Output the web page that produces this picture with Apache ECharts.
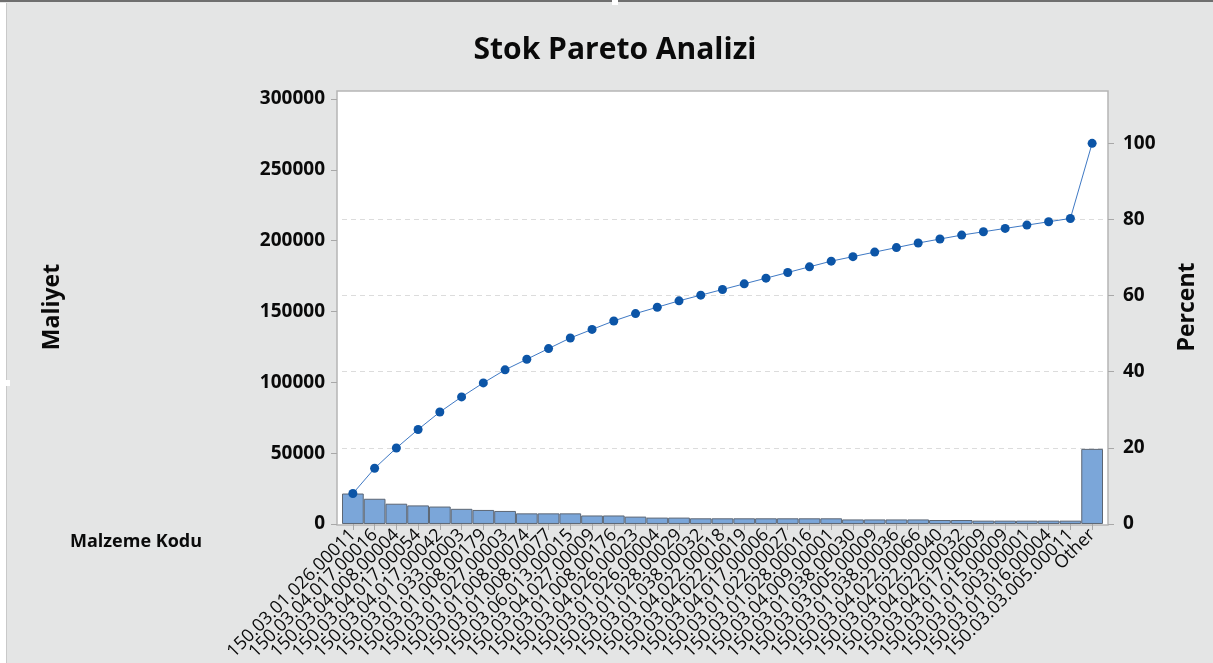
<!DOCTYPE html>
<html>
<head>
<meta charset="utf-8">
<title>Stok Pareto Analizi</title>
<script src="https://cdn.jsdelivr.net/npm/echarts@6/dist/echarts.min.js"></script>
<style>
  html, body { margin: 0; padding: 0; background: #e4e5e5; }
  #chart { width: 1213px; height: 663px; }
</style>
</head>
<body>
<div id="chart"></div>
<script>
// malzeme kodlari (pareto sirasi)
const categories = [
  '150.03.01.026.00011', '150.03.04.017.00016', '150.03.04.008.00004', '150.03.04.017.00054',
  '150.03.04.017.00042', '150.03.01.033.00003', '150.03.01.008.00179', '150.03.01.027.00003',
  '150.03.01.008.00074', '150.03.01.008.00077', '150.03.06.013.00015', '150.03.04.027.00009',
  '150.03.01.008.00176', '150.03.04.026.00023', '150.03.01.026.00004', '150.03.01.028.00029',
  '150.03.01.038.00032', '150.03.04.022.00018', '150.03.04.022.00019', '150.03.04.017.00006',
  '150.03.01.022.00027', '150.03.01.028.00016', '150.03.04.009.00001', '150.03.01.038.00030',
  '150.03.03.005.00009', '150.03.01.038.00036', '150.03.04.022.00066', '150.03.04.022.00040',
  '150.03.04.022.00032', '150.03.04.017.00009', '150.03.01.015.00009', '150.03.01.003.00001',
  '150.03.01.016.00004', '150.03.03.005.00011', 'Other'
]
// maliyet degerleri
const maliyet = [
  21500, 17800, 14300, 13100, 12300, 10700, 9900, 9200,
  7500, 7500, 7500, 6000, 6000, 5200, 4500, 4500,
  4000, 4000, 4000, 4000, 4000, 4000, 4000,
  3200, 3200, 3200, 3200, 2800, 2800,
  2350, 2350, 2350, 2350, 2350, 53000
]
const leftTicks = [0, 50000, 100000, 150000, 200000, 250000, 300000]
const rightTicks = [0, 20, 40, 60, 80, 100]
const leftMax = 305600

// kumulatif yuzde
const total = maliyet.reduce((a, b) => a + b, 0)
let run = 0
const cumPct = maliyet.map(v => { run += v; return +(run / total * 100).toFixed(2) })
const pctMax = leftMax / total * 100

const FONT = '"Open Sans", "Noto Sans", sans-serif'
const chart = echarts.init(document.getElementById('chart'))

chart.setOption({
  backgroundColor: '#e4e5e5',
  animation: false,
  textStyle: { fontFamily: FONT },
  grid: { left: 342, right: 110, top: 91, bottom: 138 },
  graphic: [
    // ekran goruntusu kenarlari
    { type: 'rect', z: -20, shape: { x: 0, y: 0, width: 1213, height: 2 }, style: { fill: '#6f6f6f' } },
    { type: 'rect', z: -20, shape: { x: 0, y: 3, width: 6, height: 660 }, style: { fill: '#ffffff' } },
    { type: 'rect', z: -20, shape: { x: 6, y: 3, width: 1, height: 660 }, style: { fill: '#c9c9c9' } },
    { type: 'rect', z: -20, shape: { x: 0, y: 380, width: 10, height: 6 }, style: { fill: '#ffffff' } },
    { type: 'rect', z: -20, shape: { x: 612, y: 0, width: 6, height: 5 }, style: { fill: '#ffffff' } },
    // cizim alani cercevesi
    { type: 'rect', z: -10, shape: { x: 337, y: 91, width: 771, height: 434 },
      style: { fill: '#ffffff', stroke: '#b5b5b5', lineWidth: 1.5 } },
    { type: 'text', x: 615, y: 50, style: { text: 'Stok Pareto Analizi', align: 'center', verticalAlign: 'middle',
      font: 'bold 30px ' + FONT, fill: '#0a0a0a' } },
    { type: 'text', x: 52, y: 307, rotation: Math.PI / 2, style: { text: 'Maliyet', align: 'center', verticalAlign: 'middle',
      font: 'bold 23px ' + FONT, fill: '#0a0a0a' } },
    { type: 'text', x: 1187, y: 307, rotation: Math.PI / 2, style: { text: 'Percent', align: 'center', verticalAlign: 'middle',
      font: 'bold 23px ' + FONT, fill: '#0a0a0a' } },
    { type: 'text', x: 70, y: 542, style: { text: 'Malzeme Kodu', align: 'left', verticalAlign: 'middle',
      font: 'bold 18px ' + FONT, fill: '#0a0a0a' } }
  ],
  xAxis: {
    type: 'category',
    data: categories,
    axisLine: { show: false },
    axisTick: { show: true, alignWithLabel: true, length: 6, lineStyle: { color: '#a8a8a8' } },
    axisLabel: { interval: 0, rotate: 45, margin: 8, fontSize: 18, color: '#0a0a0a', fontFamily: FONT }
  },
  yAxis: [
    {
      type: 'value', min: 0, max: leftMax, interval: 50000, offset: 5,
      axisLine: { show: false },
      axisTick: { show: true, length: 6, lineStyle: { color: '#a8a8a8' }, customValues: leftTicks },
      axisLabel: { margin: 12, fontSize: 19, fontWeight: 'bold', color: '#0a0a0a',
        customValues: leftTicks, fontFamily: FONT, formatter: v => String(Math.round(v)) },
      splitLine: { show: false }
    },
    {
      type: 'value', min: 0, max: pctMax, interval: 20, offset: 5,
      axisLine: { show: false },
      axisTick: { show: true, length: 6, lineStyle: { color: '#a8a8a8' }, customValues: rightTicks },
      axisLabel: { margin: 15, fontSize: 19, fontWeight: 'bold', color: '#0a0a0a',
        customValues: rightTicks, fontFamily: FONT, formatter: v => String(Math.round(v)) },
      splitLine: { show: true, showMinLine: false, showMaxLine: false,
        lineStyle: { color: '#dcdcdc', type: [5, 4], width: 1 } }
    }
  ],
  series: [
    {
      name: 'Maliyet',
      type: 'bar',
      data: maliyet,
      barCategoryGap: '0%',
      itemStyle: { color: '#7ba6d9', borderColor: '#5c6674', borderWidth: 1 }
    },
    {
      name: 'Percent',
      type: 'line',
      yAxisIndex: 1,
      data: cumPct,
      symbol: 'circle',
      symbolSize: 9,
      lineStyle: { width: 1, color: '#3f79c4' },
      itemStyle: { color: '#0c55a7' }
    }
  ]
})
</script>
</body>
</html>
